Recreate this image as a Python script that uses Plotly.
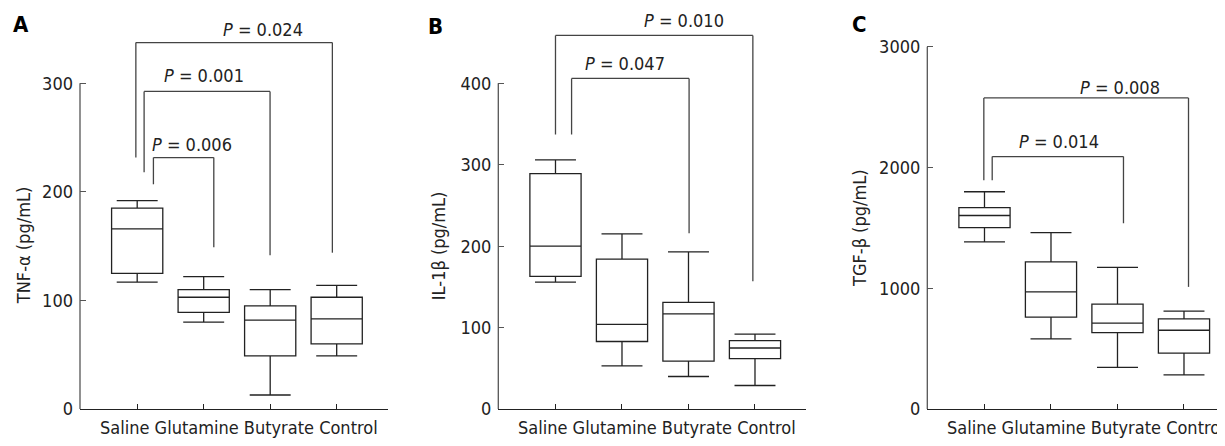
import plotly.graph_objects as go

W, H = 1225, 446
OFF = 8  # the page body offsets the figure by 8px right and down
FONT = "DejaVu Sans Condensed, Liberation Sans, Arial, sans-serif"
FS = 18
INK = "#222222"

categories = ["Saline", "Glutamine", "Butyrate", "Control"]

# Panel A: TNF-alpha (pg/mL)
tnf_low = [117, 80, 13, 49]
tnf_q1 = [125, 89, 49, 60]
tnf_med = [166, 103, 82, 83]
tnf_q3 = [185, 110, 95, 103]
tnf_high = [192, 122, 110, 114]

# Panel B: IL-1beta (pg/mL)
il_low = [156, 53, 40, 29]
il_q1 = [163, 83, 59, 62]
il_med = [200, 104, 117, 75]
il_q3 = [289, 184, 131, 84]
il_high = [306, 215, 193, 92]

# Panel C: TGF-beta (pg/mL)
tgf_low = [1384, 582, 345, 283]
tgf_q1 = [1503, 762, 634, 464]
tgf_med = [1603, 970, 712, 653]
tgf_q3 = [1668, 1219, 869, 747]
tgf_high = [1800, 1462, 1174, 812]

y_ticks_a = [0, 100, 200, 300]
y_ticks_b = [0, 100, 200, 300, 400]
y_ticks_c = [0, 1000, 2000, 3000]

# significance brackets: (x_left, x_right, y_bar, y_left_end, y_right_end, label, label_x, label_y)
brackets_a = [
    (-0.02, 2.935, 337.5, 231.6, 144, "0.024", 1.89, 349.5),
    (0.104, 1.998, 292.5, 218, 141.6, "0.001", 1.0, 307),
    (0.244, 1.152, 231.6, 207, 149, "0.006", 0.82, 244),
]
brackets_b = [
    (0.0, 2.968, 458.8, 337, 157, "0.010", 1.93, 477),
    (0.242, 2.009, 406, 337, 216, "0.047", 1.045, 424),
]
brackets_c = [
    (-0.01, 3.068, 2577, 1894, 1012, "0.008", 2.04, 2663),
    (0.116, 2.09, 2091, 1894, 1538, "0.014", 1.12, 2212),
]

panels = [
    dict(letter="A", title="TNF-α (pg/mL)", low=tnf_low, q1=tnf_q1, med=tnf_med, q3=tnf_q3, high=tnf_high,
         ticks=y_ticks_a, brackets=brackets_a, x0=80, x1=388, ymax_px=333.3, letter_xy=(21, 25), title_x=23),
    dict(letter="B", title="IL-1β (pg/mL)", low=il_low, q1=il_q1, med=il_med, q3=il_q3, high=il_high,
         ticks=y_ticks_b, brackets=brackets_b, x0=498.3, x1=806, ymax_px=333.3, letter_xy=(435.5, 26.5), title_x=438),
    dict(letter="C", title="TGF-β (pg/mL)", low=tgf_low, q1=tgf_q1, med=tgf_med, q3=tgf_q3, high=tgf_high,
         ticks=y_ticks_c, brackets=brackets_c, x0=927.3, x1=1225, ymax_px=370.6, letter_xy=(859, 25), title_x=860),
]

X0_PX = 418.3          # screen row of the value 0
CAT_PX = 66.5          # pixels per category
LEFT = -0.86           # category units left of first category


def px(x):
    return (x - OFF) / W


def py(y):
    return 1 - (y - OFF) / H


fig = go.Figure()
shapes = []
annotations = []
layout_axes = {}

for i, p in enumerate(panels):
    n = "" if i == 0 else str(i + 1)
    xa, ya = "x" + n, "y" + n
    fig.add_trace(go.Box(
        x=categories, q1=p["q1"], median=p["med"], q3=p["q3"],
        lowerfence=p["low"], upperfence=p["high"],
        xaxis=xa, yaxis=ya, width=0.77, whiskerwidth=0.8,
        fillcolor="white", line=dict(color=INK, width=1.3),
        boxpoints=False, showlegend=False, hoverinfo="skip",
    ))
    ymax = p["ticks"][-1]
    top = ymax * (X0_PX - OFF) / p["ymax_px"]
    x1 = min(p["x1"], W + OFF)
    xr = [LEFT, (x1 - p["x0"]) / CAT_PX + LEFT]
    layout_axes["xaxis" + n] = dict(
        domain=[px(p["x0"]), min(px(x1), 1)], range=xr, anchor=ya,
        type="category", categoryorder="array", categoryarray=categories,
        showline=True, linecolor=INK, linewidth=1.3, ticks="inside", ticklen=5,
        tickcolor=INK, showticklabels=False, showgrid=False, zeroline=False,
    )
    layout_axes["yaxis" + n] = dict(
        domain=[py(X0_PX), 1], range=[0, top], anchor=xa,
        tickvals=p["ticks"], ticktext=[str(t) for t in p["ticks"]],
        ticks="inside", ticklen=6, tickcolor="#555", showline=False,
        showgrid=False, zeroline=False, ticklabelstandoff=6,
        tickfont=dict(family=FONT, size=FS, color=INK),
    )
    # y axis line, only up to top tick
    shapes.append(dict(type="line", xref=xa + " domain", yref=ya, x0=0, x1=0, y0=0, y1=ymax,
                       line=dict(color="#555", width=1.3)))
    # brackets
    for (xl, xrr, yb, yle, yre, lab, lx, ly) in p["brackets"]:
        for seg in [(xl, yle, xl, yb), (xl, yb, xrr, yb), (xrr, yb, xrr, yre)]:
            shapes.append(dict(type="line", xref=xa, yref=ya, x0=seg[0], y0=seg[1],
                               x1=seg[2], y1=seg[3], line=dict(color="#444", width=1.3)))
        annotations.append(dict(x=lx, y=ly, xref=xa, yref=ya, text="<i>P</i> = " + lab,
                                showarrow=False, xanchor="center", yanchor="middle",
                                font=dict(family=FONT, size=FS, color=INK)))
    # category labels as one line
    annotations.append(dict(x=1.53, y=py(437), xref=xa, yref="paper",
                            text=" ".join(categories), showarrow=False,
                            xanchor="center", yanchor="middle",
                            font=dict(family=FONT, size=FS, color=INK)))
    # y title
    annotations.append(dict(x=px(p["title_x"]), y=ymax / 2, xref="paper", yref=ya,
                            text=p["title"], textangle=-90, showarrow=False,
                            xanchor="center", yanchor="middle",
                            font=dict(family=FONT, size=FS, color=INK)))
    # panel letter
    lxp, lyp = p["letter_xy"]
    annotations.append(dict(x=px(lxp), y=py(lyp), xref="paper", yref="paper",
                            text="<b>" + p["letter"] + "</b>", showarrow=False,
                            xanchor="center", yanchor="middle",
                            font=dict(family=FONT, size=22, color="#000")))

fig.update_layout(
    width=W, height=H, margin=dict(l=0, r=0, t=0, b=0),
    paper_bgcolor="white", plot_bgcolor="white",
    shapes=shapes, annotations=annotations, showlegend=False,
    **layout_axes,
)

fig.write_html("out.html")
